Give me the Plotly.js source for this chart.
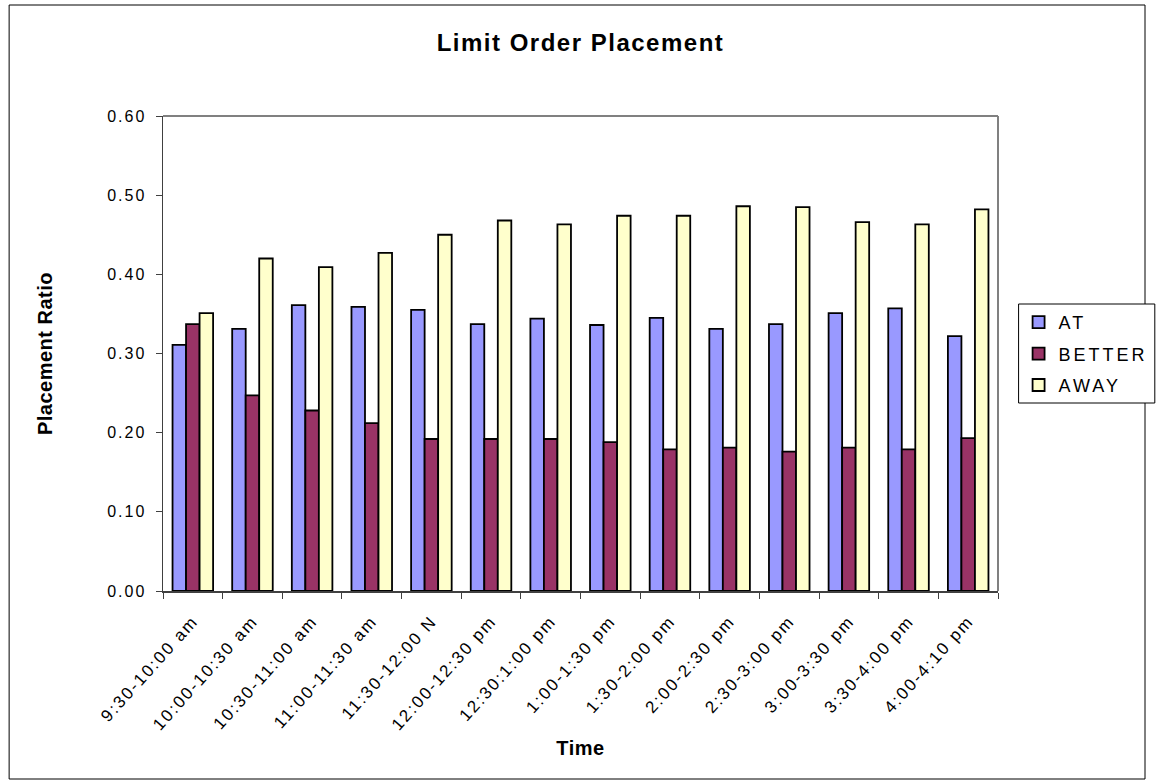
<!DOCTYPE html>
<html>
<head>
<meta charset="utf-8">
<script src="https://cdn.plot.ly/plotly-3.0.1.min.js"></script>
<style>
  html, body { margin: 0; padding: 0; background: #fff; }
  #chart { width: 1166px; height: 784px; }
  .ytick text { letter-spacing: 2px; }
  .xtick text { letter-spacing: 2px; }
  text.legendtext { letter-spacing: 3px; }
  text.gtitle { letter-spacing: 1.5px; }
  text.xtitle, text.ytitle { letter-spacing: 0.5px; }
</style>
</head>
<body>
<div id="chart"></div>
<script>
const categories = [
  "9:30-10:00 am", "10:00-10:30 am", "10:30-11:00 am", "11:00-11:30 am",
  "11:30-12:00 N", "12:00-12:30 pm", "12:30:1:00 pm", "1:00-1:30 pm",
  "1:30-2:00 pm", "2:00-2:30 pm", "2:30-3:00 pm", "3:00-3:30 pm",
  "3:30-4:00 pm", "4:00-4:10 pm"
];
const atValues     = [0.311, 0.331, 0.361, 0.359, 0.355, 0.337, 0.344, 0.336, 0.345, 0.331, 0.337, 0.351, 0.357, 0.322];
const betterValues = [0.337, 0.247, 0.228, 0.212, 0.192, 0.192, 0.192, 0.188, 0.179, 0.181, 0.176, 0.181, 0.179, 0.193];
const awayValues   = [0.351, 0.420, 0.409, 0.427, 0.450, 0.468, 0.463, 0.474, 0.474, 0.486, 0.485, 0.466, 0.463, 0.482];
const yTickVals = [0, 0.1, 0.2, 0.3, 0.4, 0.5, 0.6];
const yTickText = ["0.00", "0.10", "0.20", "0.30", "0.40", "0.50", "0.60"];

const FONT = "Liberation Sans, Arial, Helvetica, sans-serif";
const outline = { color: "#000000", width: 1.8 };

const traces = [
  { type: "bar", name: "AT", x: categories, y: atValues, legendgroup: "a",
    marker: { color: "#9999FF", line: outline } },
  { type: "bar", name: "BETTER", x: categories, y: betterValues, legendgroup: "b",
    marker: { color: "#993366", line: outline } },
  { type: "bar", name: "AWAY", x: categories, y: awayValues, legendgroup: "c",
    marker: { color: "#FFFFCC", line: outline } }
];

// plot area in px: x 163..1015, y 116..591
const L = 163, R = 1166 - 1015, T = 116, B = 784 - 591;
const PW = 1166 - L - R, PH = 784 - T - B;
const px = v => (v - L) / PW;
const py = v => (784 - B - v) / PH;

const layout = {
  width: 1166, height: 784,
  margin: { l: L, r: R, t: T, b: B, pad: 0 },
  paper_bgcolor: "#ffffff", plot_bgcolor: "#ffffff",
  font: { family: FONT, color: "#000000", size: 16 },
  title: { text: "<b>Limit Order Placement</b>", font: { family: FONT, size: 24, color: "#000" },
           x: 0.5, xref: "paper", y: 1 - 43 / 784, yref: "container", yanchor: "middle" },
  barmode: "group", bargap: 0.32, bargroupgap: 0,
  showlegend: true,
  legend: {
    x: px(1036), y: py(304), xanchor: "left", yanchor: "top",
    borderwidth: 0, bgcolor: "rgba(0,0,0,0)",
    font: { family: FONT, size: 18, color: "#000" },
    traceorder: "grouped", tracegroupgap: 5, itemwidth: 30
  },
  xaxis: {
    type: "category", tickangle: -48, tickson: "boundaries",
    ticks: "outside", ticklen: 6, tickcolor: "#404040", ticklabelstandoff: 12,
    showline: true, linecolor: "#404040", linewidth: 1.5,
    showgrid: false, zeroline: false,
    tickfont: { family: FONT, size: 17, color: "#000" },
    title: { text: "<b>Time</b>", font: { family: FONT, size: 20, color: "#000" }, standoff: 8 },
    automargin: false
  },
  yaxis: {
    range: [0, 0.6], tickvals: yTickVals, ticktext: yTickText,
    ticks: "outside", ticklen: 6, tickcolor: "#404040", ticklabelstandoff: 6,
    showline: true, linecolor: "#404040", linewidth: 1.5,
    showgrid: false, zeroline: false,
    tickfont: { family: FONT, size: 16, color: "#000" },
    title: { text: "<b>Placement Ratio</b>", font: { family: FONT, size: 20, color: "#000" }, standoff: 49 },
    automargin: false
  },
  shapes: [
    { type: "line", xref: "paper", yref: "paper", x0: 0, x1: 1, y0: 1, y1: 1,
      line: { color: "#808080", width: 2 } },
    { type: "line", xref: "paper", yref: "paper", x0: 1, x1: 1, y0: 0, y1: 1,
      line: { color: "#808080", width: 2 } },
    // outer chart border
    { type: "rect", xref: "paper", yref: "paper",
      x0: px(6), x1: px(1165), y0: py(779), y1: py(5),
      line: { color: "#000000", width: 1 }, fillcolor: "rgba(0,0,0,0)", layer: "below" },
    // legend box, running off the right edge as in the reference
    { type: "rect", xref: "paper", yref: "paper",
      x0: px(1036), x1: px(1175), y0: py(403), y1: py(304),
      line: { color: "#000000", width: 1 }, fillcolor: "#ffffff", layer: "below" }
  ]
};

Plotly.newPlot("chart", traces, layout, { staticPlot: true, displayModeBar: false });
</script>
</body>
</html>
